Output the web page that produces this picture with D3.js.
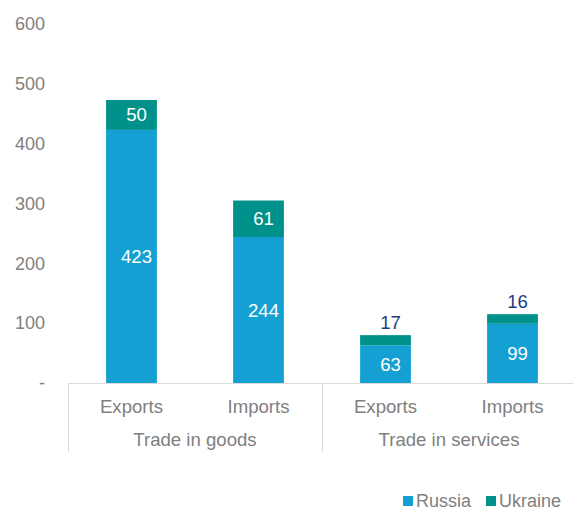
<!DOCTYPE html>
<html>
<head>
<meta charset="utf-8">
<script src="https://cdn.jsdelivr.net/npm/d3@7"></script>
<style>
  html, body { margin: 0; padding: 0; background: #fff; }
  svg { display: block; font-family: "Liberation Sans", Arial, Helvetica, sans-serif; }
</style>
</head>
<body>
<svg id="chart" width="573" height="512"></svg>
<script>
// Trade flows (EUR bn) by partner
const groups = ["Trade in goods", "Trade in services"];
const flows = ["Exports", "Imports"];
const categories = ["Exports|goods", "Imports|goods", "Exports|services", "Imports|services"];
const russia = [423, 244, 63, 99];
const ukraine = [50, 61, 17, 16];
const yTicks = [0, 100, 200, 300, 400, 500, 600];
const seriesNames = ["Russia", "Ukraine"];
const seriesColors = ["#14a0d3", "#00918a"];

const svg = d3.select("#chart");
const margin = { left: 68, right: -3, top: 24, bottom: 129 };
const W = 573, H = 512;
const y0 = H - margin.bottom;
const fs = "18.6px";

const x = d3.scaleBand()
  .domain(categories)
  .range([margin.left, W - margin.right])
  .paddingInner(0.6)
  .paddingOuter(0.3);

const y = d3.scaleLinear().domain([0, 600]).range([y0, margin.top]);

const grey = "#808080";

// y axis labels (no line, no ticks)
const yAxis = d3.axisLeft(y)
  .tickValues(yTicks)
  .tickSize(0)
  .tickPadding(0)
  .tickFormat(d => d === 0 ? "-" : d3.format("d")(d));
const gy = svg.append("g").attr("transform", "translate(45,0)").call(yAxis);
gy.select(".domain").remove();
gy.selectAll("text")
  .attr("fill", grey)
  .style("font-size", "18px")
  .style("font-family", "inherit");

// stacked bars
const rows = categories.map((c, i) => ({ c, ru: russia[i], ua: ukraine[i] }));
const stack = d3.stack().keys(["ru", "ua"])(rows);

stack.forEach((layer, li) => {
  svg.append("g").selectAll("rect")
    .data(layer)
    .join("rect")
    .attr("x", d => x(d.data.c))
    .attr("width", x.bandwidth())
    .attr("y", d => y(d[1]))
    .attr("height", d => y(d[0]) - y(d[1]))
    .attr("fill", seriesColors[li]);
});

// category axis: baseline and group separators
const axisColor = "#d9d9d9";
svg.append("line")
  .attr("x1", margin.left).attr("x2", W)
  .attr("y1", y0 + 0.5).attr("y2", y0 + 0.5)
  .attr("stroke", axisColor).attr("stroke-width", 1);
const sepX = [margin.left, (x(categories[1]) + x.bandwidth() + x(categories[2])) / 2];
svg.selectAll("line.sep")
  .data(sepX)
  .join("line")
  .attr("class", "sep")
  .attr("x1", d => Math.round(d) + 0.5).attr("x2", d => Math.round(d) + 0.5)
  .attr("y1", y0).attr("y2", y0 + 69)
  .attr("stroke", axisColor).attr("stroke-width", 1);

// flow labels
svg.append("g").selectAll("text")
  .data(categories)
  .join("text")
  .attr("x", d => x(d) + x.bandwidth() / 2)
  .attr("y", y0 + 30)
  .attr("text-anchor", "middle")
  .attr("fill", grey)
  .style("font-size", fs)
  .text(d => d.split("|")[0]);

// group labels
const groupBounds = [[margin.left, sepX[1]], [sepX[1], x.range()[1]]];
svg.append("g").selectAll("text")
  .data(groups)
  .join("text")
  .attr("x", (d, i) => (groupBounds[i][0] + groupBounds[i][1]) / 2)
  .attr("y", y0 + 63)
  .attr("text-anchor", "middle")
  .attr("fill", grey)
  .style("font-size", fs)
  .text(d => d);

// value labels: inside the segment when it is tall enough, otherwise above the bar
stack.forEach((layer, li) => {
  svg.append("g").selectAll("text")
    .data(layer)
    .join("text")
    .each(function (d) {
      const v = d[1] - d[0];
      const top = y(d[1]), bot = y(d[0]);
      const fits = (bot - top) > 22;
      d3.select(this)
        .attr("x", x(d.data.c) + x.bandwidth() / 2 + 5)
        .attr("y", fits ? (top + bot) / 2 : top - 13)
        .attr("dy", "0.35em")
        .attr("fill", fits ? "#ffffff" : "#1d3c84")
        .text(v);
    })
    .attr("text-anchor", "middle")
    .style("font-size", fs);
});

// legend
const legend = svg.append("g").attr("transform", "translate(403,0)");
const legendX = [0, 83];
seriesNames.forEach((name, i) => {
  const g = legend.append("g").attr("transform", `translate(${legendX[i]},0)`);
  g.append("rect").attr("x", 0).attr("y", 496).attr("width", 10).attr("height", 10).attr("fill", seriesColors[i]);
  g.append("text").attr("x", 13).attr("y", 507)
    .attr("fill", grey).style("font-size", "18px").text(name);
});
</script>
</body>
</html>
